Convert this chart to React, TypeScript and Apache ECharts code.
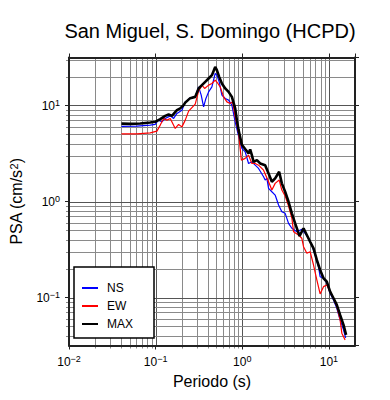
import React, { useEffect, useRef } from 'react';
import * as echarts from 'echarts';

const FONT = "'Liberation Sans', Arial, Helvetica, sans-serif";

const titleText = 'San Miguel, S. Domingo (HCPD)';
const xName = 'Periodo (s)';
const yNameRich = 'PSA (cm/s{sup|2})';
const legendNames = ['NS', 'EW', 'MAX'];

const nsPeriod = [0.0403, 0.0608, 0.0866, 0.0989, 0.107, 0.1182, 0.129, 0.1474, 0.1613, 0.1761, 0.2011, 0.2195, 0.2506, 0.2862, 0.3133, 0.3357, 0.3578, 0.3804, 0.4087, 0.4461, 0.4869, 0.5093, 0.5415, 0.5818, 0.6352, 0.695, 0.7586, 0.8282, 0.9064, 0.9895, 1.08, 1.182, 1.29, 1.409, 1.542, 1.761, 1.837, 1.922, 2.011, 2.195, 2.396, 2.623, 2.862, 3.125, 3.42, 3.734, 4.264, 4.869, 5.314, 5.816, 6.35, 6.931, 7.586, 7.916, 8.663, 9.458, 10.32, 11.3, 12.33, 13.46, 14.74, 15.6];
const nsValue = [6.05, 6.1, 6.25, 6.35, 7.04, 6.76, 7.33, 7.8, 7.33, 8.27, 8.94, 10.91, 12.01, 12.3, 15.64, 12.82, 9.68, 11.84, 13.87, 15.64, 21.56, 20.7, 17.63, 12.82, 11.84, 11.37, 10.08, 6.76, 4.8, 3.57, 3.29, 2.49, 2.59, 2.39, 2.21, 1.809, 1.672, 1.741, 1.37, 1.263, 1.167, 0.919, 0.782, 0.753, 0.592, 0.526, 0.484, 0.513, 0.466, 0.414, 0.352, 0.277, 0.209, 0.1648, 0.1586, 0.1407, 0.1107, 0.0943, 0.0773, 0.0584, 0.046, 0.038];

const ewPeriod = [0.0403, 0.0608, 0.0866, 0.1035, 0.113, 0.1237, 0.135, 0.1474, 0.1683, 0.1842, 0.2011, 0.2195, 0.2402, 0.2623, 0.2862, 0.3133, 0.342, 0.3675, 0.4087, 0.4461, 0.4869, 0.5231, 0.5562, 0.6087, 0.6645, 0.7251, 0.7729, 0.8282, 0.9064, 0.976, 1.08, 1.182, 1.29, 1.409, 1.542, 1.761, 2.011, 2.195, 2.396, 2.665, 2.862, 3.125, 3.42, 3.734, 3.906, 4.461, 4.869, 5.093, 5.56, 6.07, 6.644, 7.251, 7.916, 8.663, 9.458, 10.32, 11.3, 12.33, 13.46, 14.09, 15.38];
const ewValue = [5.07, 5.07, 5.19, 5.41, 6.25, 7.33, 7.04, 7.33, 5.77, 6.35, 5.99, 7.04, 8.73, 9.5, 10.33, 14.11, 16.29, 15.05, 16.29, 16.96, 18.36, 16.96, 15.64, 12.3, 10.91, 10.5, 10.91, 7.62, 5.16, 2.7, 2.81, 3.04, 2.49, 2.49, 2.39, 2.12, 1.605, 1.315, 1.545, 1.672, 1.315, 1.139, 0.897, 0.673, 0.484, 0.448, 0.414, 0.338, 0.289, 0.3, 0.218, 0.1523, 0.1089, 0.1297, 0.1351, 0.1151, 0.0982, 0.0803, 0.0584, 0.0425, 0.0362];

const maxPeriod = [0.0403, 0.0509, 0.0664, 0.0866, 0.0989, 0.113, 0.129, 0.1412, 0.1542, 0.1761, 0.1922, 0.2104, 0.2195, 0.2506, 0.2862, 0.3133, 0.342, 0.3734, 0.4087, 0.4461, 0.4869, 0.5093, 0.5415, 0.5818, 0.6352, 0.695, 0.7586, 0.8282, 0.8664, 0.9064, 0.9895, 1.08, 1.182, 1.233, 1.29, 1.35, 1.474, 1.609, 1.837, 2.011, 2.195, 2.396, 2.665, 2.862, 3.125, 3.42, 3.734, 4.075, 4.581, 5.093, 5.56, 6.07, 6.644, 7.251, 7.916, 8.663, 9.458, 10.32, 11.3, 12.33, 13.46, 14.74, 15.79];
const maxValue = [6.47, 6.44, 6.5, 6.66, 6.76, 7.21, 7.8, 8.07, 7.8, 8.94, 9.32, 10.08, 10.71, 11.93, 12.3, 15.05, 16.29, 17.63, 19.12, 20.7, 25.2, 23.32, 19.87, 16.96, 15.05, 13.87, 12.3, 9.32, 7.04, 5.54, 3.9, 3.52, 3.17, 3.49, 3.04, 2.59, 2.7, 2.49, 2.39, 1.963, 1.605, 1.741, 2.04, 1.545, 1.263, 0.994, 0.753, 0.592, 0.437, 0.526, 0.448, 0.381, 0.325, 0.246, 0.1935, 0.1586, 0.1462, 0.1151, 0.0982, 0.0837, 0.0658, 0.0518, 0.0408];

const X_MIN = 0.01;
const X_MAX = 20;
const Y_MIN = Math.pow(10, -1.5);
const Y_MAX = Math.pow(10, 1.5);

function gridValues(lo: number, hi: number) {
  const out: number[][] = [];
  for (let d = -3; d <= 2; d++) {
    for (let k = 1; k <= 9; k++) {
      const v = k * Math.pow(10, d);
      if (v > lo * 1.001 && v < hi * 0.999) out.push([v, k === 1 ? 1 : 0]);
    }
  }
  return out;
}

function pairs(p: number[], v: number[]) {
  return p.map((t, i) => [t, v[i]]);
}

const labelRich = {
  b: { fontSize: 12, lineHeight: 14, fontFamily: FONT, color: '#000' },
  s: { fontSize: 9, lineHeight: 9, verticalAlign: 'top', fontFamily: FONT, color: '#000' },
};

function powLabel(v: number) {
  const lg = Math.log10(v);
  const e = Math.round(lg);
  if (Math.abs(lg - e) > 0.01) return '';
  return '{b|10}{s|' + (e < 0 ? '\u2212' + -e : String(e)) + '}';
}

export default function App() {
  const ref = useRef<HTMLDivElement>(null);
  useEffect(() => {
    if (!ref.current) return;
    const chart = echarts.init(ref.current, undefined, { renderer: 'svg' });
    const xGrid = gridValues(X_MIN, X_MAX).map((d) => [d[0], 1, d[1]]);
    const yGrid = gridValues(Y_MIN, Y_MAX).map((d) => [1, d[0], d[1]]);
    const frameLine = { show: true, lineStyle: { color: '#222', width: 2 } };
    const tickStyle = { show: true, inside: false, length: 4, lineStyle: { color: '#222', width: 1 } };
    chart.setOption({
      animation: false,
      backgroundColor: '#fff',
      title: {
        text: titleText,
        left: 210,
        top: 21,
        padding: 0,
        textAlign: 'center',
        textStyle: { fontSize: 20, fontWeight: 'normal', fontFamily: FONT, color: '#000' },
      },
      grid: { left: 67, top: 57.5, width: 288, height: 288, containLabel: false },
      legend: {
        orient: 'vertical',
        left: 74,
        top: 267,
        data: legendNames,
        backgroundColor: '#fff',
        borderColor: '#000',
        borderWidth: 1.5,
        borderRadius: 0,
        padding: [14, 21, 7, 8],
        itemWidth: 16,
        itemHeight: 14,
        itemGap: 4,
        icon: 'path://M0,0h16v2h-16z',
        textStyle: { fontSize: 12, lineHeight: 14, color: '#000', fontFamily: FONT, padding: [0, 0, 0, 4] },
      },
      xAxis: [
        {
          type: 'log',
          logBase: 10,
          min: X_MIN,
          max: X_MAX,
          position: 'bottom',
          z: 10,
          axisLine: frameLine,
          axisTick: tickStyle,
          splitLine: { show: false },
          axisLabel: {
            show: true,
            margin: 9,
            showMinLabel: true,
            showMaxLabel: false,
            hideOverlap: false,
            formatter: powLabel,
            rich: labelRich,
          },
          name: xName,
          nameLocation: 'middle',
          nameGap: 28,
          nameTextStyle: { fontSize: 16, fontFamily: FONT, color: '#000', verticalAlign: 'top' },
        },
        {
          type: 'log',
          logBase: 10,
          min: X_MIN,
          max: X_MAX,
          position: 'top',
          z: 10,
          axisLine: frameLine,
          axisTick: tickStyle,
          splitLine: { show: false },
          axisLabel: { show: false },
        },
      ],
      yAxis: [
        {
          type: 'log',
          logBase: 10,
          min: Y_MIN,
          max: Y_MAX,
          position: 'left',
          z: 10,
          axisLine: frameLine,
          axisTick: tickStyle,
          splitLine: { show: false },
          axisLabel: {
            show: true,
            margin: 9,
            showMinLabel: false,
            showMaxLabel: false,
            hideOverlap: false,
            formatter: powLabel,
            rich: labelRich,
          },
          name: yNameRich,
          nameLocation: 'middle',
          nameGap: 45,
          nameRotate: 90,
          nameTextStyle: {
            fontSize: 16,
            fontFamily: FONT,
            color: '#000',
            rich: {
              sup: { fontSize: 11, lineHeight: 11, verticalAlign: 'top', fontFamily: FONT, color: '#000' },
            },
          },
        },
        {
          type: 'log',
          logBase: 10,
          min: Y_MIN,
          max: Y_MAX,
          position: 'right',
          z: 10,
          axisLine: frameLine,
          axisTick: tickStyle,
          splitLine: { show: false },
          axisLabel: { show: false },
        },
      ],
      series: [
        {
          type: 'custom',
          name: 'xgrid',
          xAxisIndex: 0,
          yAxisIndex: 0,
          z: 1,
          silent: true,
          data: xGrid,
          encode: { x: 0, y: 1 },
          renderItem: (params: any, api: any) => {
            const cs = params.coordSys;
            const major = api.value(2) === 1;
            const px = Math.round(api.coord([api.value(0), 1])[0]) + 0.5;
            return {
              type: 'line',
              shape: { x1: px, y1: cs.y, x2: px, y2: cs.y + cs.height + (major ? 0 : 3) },
              style: { stroke: major ? '#555' : '#8a8a8a', lineWidth: 1 },
            };
          },
        },
        {
          type: 'custom',
          name: 'ygrid',
          xAxisIndex: 0,
          yAxisIndex: 0,
          z: 1,
          silent: true,
          data: yGrid,
          encode: { x: 0, y: 1 },
          renderItem: (params: any, api: any) => {
            const cs = params.coordSys;
            const major = api.value(2) === 1;
            const py = Math.round(api.coord([1, api.value(1)])[1]) + 0.5;
            return {
              type: 'line',
              shape: { x1: cs.x - (major ? 0 : 3), y1: py, x2: cs.x + cs.width, y2: py },
              style: { stroke: major ? '#555' : '#8a8a8a', lineWidth: 1 },
            };
          },
        },
        {
          type: 'line',
          name: 'NS',
          data: pairs(nsPeriod, nsValue),
          symbol: 'none',
          showSymbol: false,
          z: 3,
          color: '#0000ff',
          lineStyle: { color: '#0000ff', width: 1.2 },
        },
        {
          type: 'line',
          name: 'EW',
          data: pairs(ewPeriod, ewValue),
          symbol: 'none',
          showSymbol: false,
          z: 3,
          color: '#ff0000',
          lineStyle: { color: '#ff0000', width: 1.2 },
        },
        {
          type: 'line',
          name: 'MAX',
          data: pairs(maxPeriod, maxValue),
          symbol: 'none',
          showSymbol: false,
          z: 4,
          color: '#000000',
          lineStyle: { color: '#000000', width: 2.6 },
        },
      ],
    });
    return () => chart.dispose();
  }, []);
  return <div ref={ref} style={{ position: 'fixed', left: 0, top: 0, width: 390, height: 400 }} />;
}
